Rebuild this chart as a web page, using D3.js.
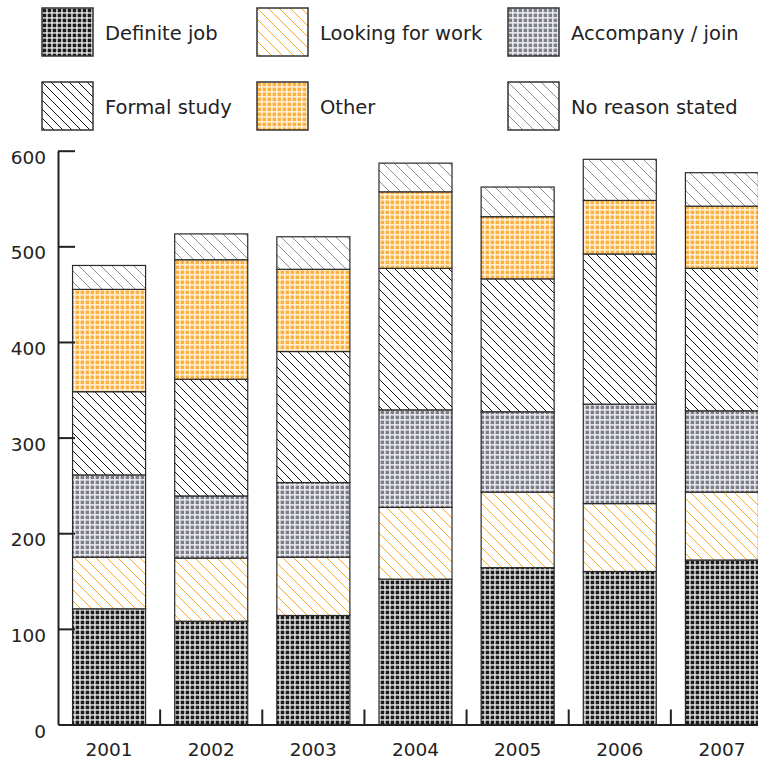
<!DOCTYPE html>
<html>
<head>
<meta charset="utf-8">
<script src="https://cdn.jsdelivr.net/npm/d3@7"></script>
<style>
  body { margin: 0; background: #fff; }
  text { font-family: "DejaVu Sans", sans-serif; fill: #222; }
</style>
</head>
<body>
<div id="chart"></div>
<script>
const years = ['2001', '2002', '2003', '2004', '2005', '2006', '2007'];
const definiteJob = [121, 108, 114, 152, 164, 160, 172];
const lookingForWork = [54, 66, 61, 75, 79, 71, 71];
const accompanyJoin = [86, 65, 78, 102, 84, 104, 85];
const formalStudy = [87, 122, 137, 148, 139, 157, 149];
const otherReason = [107, 125, 86, 80, 65, 56, 65];
const noReason = [25, 27, 34, 30, 31, 43, 35];
const seriesNames = ['Definite job', 'Looking for work', 'Accompany / join',
  'Formal study', 'Other', 'No reason stated'];
const yTicks = [0, 100, 200, 300, 400, 500, 600];

const seriesValues = [definiteJob, lookingForWork, accompanyJoin, formalStudy, otherReason, noReason];
const patternIds = ['p-dj', 'p-lfw', 'p-acc', 'p-fs', 'p-oth', 'p-nr'];

const width = 758;
const height = 760;

const svg = d3.select('#chart')
  .append('svg')
  .attr('width', width)
  .attr('height', height);

// Fill patterns
const defs = svg.append('defs');

function gridPattern(id, bg, fg, size, cell) {
  const p = defs.append('pattern')
    .attr('id', id)
    .attr('patternUnits', 'userSpaceOnUse')
    .attr('width', size)
    .attr('height', size);
  p.append('rect').attr('width', size).attr('height', size).attr('fill', bg);
  p.append('rect').attr('x', 0.6).attr('y', 0.6)
    .attr('width', cell).attr('height', cell).attr('fill', fg);
}

function diagPattern(id, color, size, lw) {
  const p = defs.append('pattern')
    .attr('id', id)
    .attr('patternUnits', 'userSpaceOnUse')
    .attr('width', size)
    .attr('height', size);
  p.append('rect').attr('width', size).attr('height', size).attr('fill', '#fff');
  p.append('path')
    .attr('d', `M0,0L${size},${size}M${-size / 2},${size / 2}L${size / 2},${size * 1.5}M${size / 2},${-size / 2}L${size * 1.5},${size / 2}`)
    .attr('stroke', color)
    .attr('stroke-width', lw);
}

gridPattern('p-dj', '#f4f4f4', '#1c1c1c', 5, 3.7);
gridPattern('p-acc', '#eeeef1', '#7c7e8a', 5, 3.5);
gridPattern('p-oth', '#fff1d6', '#fbb040', 5, 3.5);
diagPattern('p-lfw', '#f5a82a', 11, 1);
diagPattern('p-fs', '#151515', 9, 1);
diagPattern('p-nr', '#8d8d95', 11, 1);

// Scales
const x = d3.scaleBand()
  .domain(years)
  .range([58, 773])
  .paddingInner(0.285)
  .paddingOuter(0.1425);

const y = d3.scaleLinear()
  .domain([0, 600])
  .range([724.5, 150.7]);

// Stack data
const rows = years.map((yr, i) => {
  const row = { year: yr };
  seriesNames.forEach((name, j) => { row[name] = seriesValues[j][i]; });
  return row;
});
const stacked = d3.stack().keys(seriesNames)(rows);

// Bars
svg.append('g')
  .selectAll('g')
  .data(stacked)
  .enter()
  .append('g')
  .attr('fill', (d, i) => `url(#${patternIds[i]})`)
  .selectAll('rect')
  .data(d => d)
  .enter()
  .append('rect')
  .attr('x', d => x(d.data.year))
  .attr('y', d => y(d[1]))
  .attr('width', x.bandwidth())
  .attr('height', d => y(d[0]) - y(d[1]))
  .attr('stroke', '#2b2b2b')
  .attr('stroke-width', 1.2);

// Y axis
const yAxis = svg.append('g')
  .attr('transform', 'translate(58,0)')
  .call(d3.axisLeft(y).tickValues(yTicks).tickSizeInner(-17).tickSizeOuter(0).tickPadding(12));
yAxis.select('.domain').attr('stroke', '#222').attr('stroke-width', 2);
yAxis.selectAll('.tick line').attr('stroke', '#222').attr('stroke-width', 2)
  .filter(d => d === 0).remove();
yAxis.selectAll('.tick text')
  .attr('dy', '0.68em')
  .style('font-size', '18.5px')
  .style('font-family', '"DejaVu Sans", sans-serif')
  .attr('fill', '#222');

// X axis
const xAxis = svg.append('g')
  .attr('transform', `translate(0,${y(0)})`)
  .call(d3.axisBottom(x).tickSize(0).tickPadding(18));
xAxis.select('.domain').attr('stroke', '#222').attr('stroke-width', 2);
xAxis.selectAll('.tick text')
  .style('font-size', '18.5px')
  .style('font-family', '"DejaVu Sans", sans-serif')
  .attr('fill', '#222');

// Separator ticks between the bars
svg.append('g')
  .selectAll('line')
  .data(years.slice(1))
  .enter()
  .append('line')
  .attr('x1', d => x(d) - x.step() * x.paddingInner() / 2)
  .attr('x2', d => x(d) - x.step() * x.paddingInner() / 2)
  .attr('y1', y(0))
  .attr('y2', y(0) - 15)
  .attr('stroke', '#222')
  .attr('stroke-width', 2);

// Legend
const legendCols = [42, 257, 508];
const legendRows = [8, 82];
const legend = svg.append('g')
  .selectAll('.legend')
  .data(seriesNames)
  .enter()
  .append('g')
  .attr('class', 'legend')
  .attr('transform', (d, i) => `translate(${legendCols[i % 3]}, ${legendRows[Math.floor(i / 3)]})`);

legend.append('rect')
  .attr('width', 51)
  .attr('height', 48)
  .attr('fill', (d, i) => `url(#${patternIds[i]})`)
  .attr('stroke', '#333')
  .attr('stroke-width', 1.5);

legend.append('text')
  .attr('x', 63)
  .attr('y', 32)
  .style('font-size', '19.5px')
  .text(d => d);
</script>
</body>
</html>
